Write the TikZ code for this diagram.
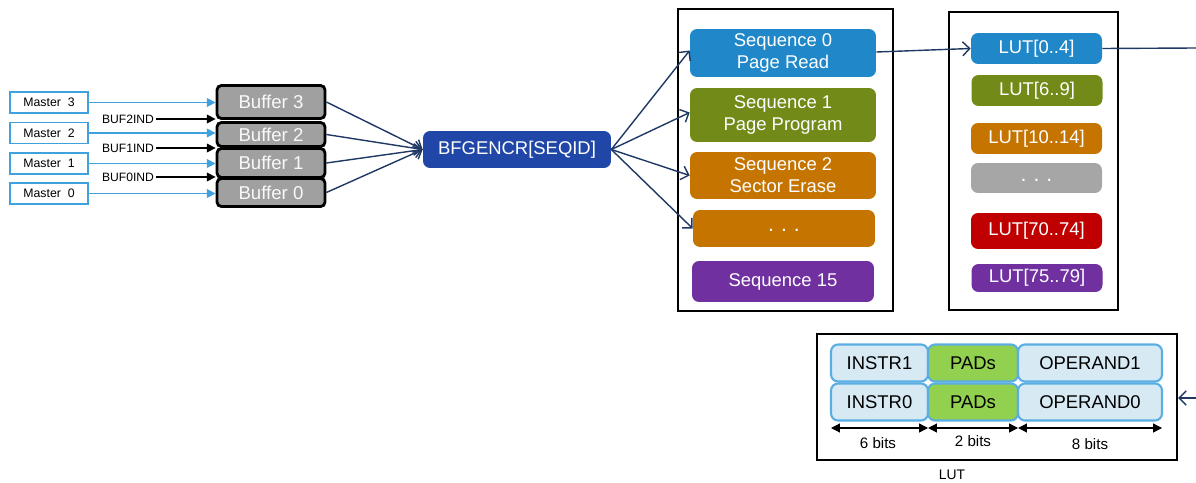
\documentclass[tikz,border=0pt]{standalone}
\usepackage{fontspec}
\setmainfont{Liberation Sans}
\usetikzlibrary{arrows.meta}
\definecolor{navy}{HTML}{1F3864}
\definecolor{mblue}{HTML}{3FA2DE}
\definecolor{bufgray}{HTML}{A0A0A0}
\definecolor{bfblue}{HTML}{2047A8}
\definecolor{sblue}{HTML}{2088C9}
\definecolor{sgreen}{HTML}{728A18}
\definecolor{sorange}{HTML}{C57400}
\definecolor{sgray}{HTML}{A6A6A6}
\definecolor{sred}{HTML}{C00000}
\definecolor{spurple}{HTML}{7030A0}
\definecolor{cellfill}{HTML}{D7EAF4}
\definecolor{celledge}{HTML}{5AAEE2}
\definecolor{padgreen}{HTML}{92D050}
\newcommand{\mydots}{\raisebox{-0.7ex}{\fontsize{12}{12}\selectfont .\,\,.\,\,.}}
\tikzset{
  master/.style={draw=mblue, line width=0.8pt, fill=white, minimum width=1.56cm, minimum height=0.42cm, inner sep=0pt, font=\fontsize{7}{8}\selectfont},
  buffer/.style={draw=black, line width=1.6pt, fill=bufgray, rounded corners=2.5pt, minimum width=2.16cm, inner sep=0pt, text=white!95!gray, font=\fontsize{10.6}{12}\selectfont},
  indlabel/.style={anchor=east, inner sep=1pt, font=\fontsize{6.9}{8}\selectfont},
  colbox/.style={rounded corners=4pt, inner sep=0pt, text=white, align=center, font=\fontsize{10.5}{12.4}\selectfont},
  frame/.style={draw=black, line width=1.6pt, inner sep=0pt},
  cell/.style={draw=celledge, line width=1.2pt, fill=cellfill, rounded corners=4pt, inner sep=0pt, minimum height=0.74cm, font=\fontsize{10.5}{12}\selectfont},
  marr/.style={mblue, line width=0.8pt, -{Triangle[length=5pt,width=5pt]}},
  barr/.style={black, line width=0.8pt, -{Triangle[length=5pt,width=5pt]}},
  narr/.style={navy, line width=0.8pt, -{Straight Barb[length=4pt,width=8pt]}},
  dimarr/.style={black, line width=0.7pt, {Triangle[length=5pt,width=5pt]}-{Triangle[length=5pt,width=5pt]}},
  small/.style={inner sep=0pt, font=\fontsize{8.6}{10}\selectfont}
}
\begin{document}
\begin{tikzpicture}[x=0.02cm,y=-0.02cm]
\useasboundingbox (0,0) rectangle (1196,483);
% masters
\node[master] (m3) at (49,102.5) {Master\ \ 3};
\node[master] (m2) at (49,133) {Master\ \ 2};
\node[master] (m1) at (49,163.5) {Master\ \ 1};
\node[master] (m0) at (49,193.5) {Master\ \ 0};
% buffers
\node[buffer, minimum height=0.66cm] (b3) at (271,102) {Buffer 3};
\node[buffer, minimum height=0.48cm] (b2) at (271,134.5) {Buffer 2};
\node[buffer, minimum height=0.58cm] (b1) at (271,163) {Buffer 1};
\node[buffer, minimum height=0.56cm] (b0) at (271,192.5) {Buffer 0};
\draw[marr] (m3.east) -- (m3.east -| b3.west);
\draw[marr] (m2.east) -- (m2.east -| b2.west);
\draw[marr] (m1.east) -- (m1.east -| b1.west);
\draw[marr] (m0.east) -- (m0.east -| b0.west);
% indicators
\node[indlabel] (i2) at (156,119) {BUF2IND};
\node[indlabel] (i1) at (156,148) {BUF1IND};
\node[indlabel] (i0) at (156,177) {BUF0IND};
\draw[barr] (i2.east) -- (i2.east -| b3.west);
\draw[barr] (i1.east) -- (i1.east -| b2.west);
\draw[barr] (i0.east) -- (i0.east -| b1.west);
% BFGENCR
\node[colbox, fill=bfblue, minimum width=3.76cm, minimum height=0.74cm] (bf) at (517,149.5) {BFGENCR[SEQID]};
\draw[narr] (b3.east) -- (bf.west);
\draw[narr] (b2.east) -- (bf.west);
\draw[narr] (b1.east) -- (bf.west);
\draw[narr] (b0.east) -- (bf.west);
% sequences
\node[frame, minimum width=4.3cm, minimum height=6.04cm] (sf) at (785.5,160) {};
\node[colbox, fill=sblue, minimum width=3.72cm, minimum height=0.96cm] (s0) at (783,53) {Sequence 0\\Page Read};
\node[colbox, fill=sgreen, minimum width=3.72cm, minimum height=1.08cm] (s1) at (783,115) {Sequence 1\\Page Program};
\node[colbox, fill=sorange, minimum width=3.72cm, minimum height=0.94cm] (s2) at (783,175.5) {Sequence 2\\Sector Erase};
\node[colbox, fill=sorange, minimum width=3.64cm, minimum height=0.74cm] (sd) at (784,228.5) {\mydots};
\node[colbox, fill=spurple, minimum width=3.64cm, minimum height=0.82cm] (s15) at (783,281.5) {Sequence 15};
\draw[narr] (bf.east) -- ([yshift=0.05cm]s0.west);
\draw[narr] (bf.east) -- ([yshift=0.05cm]s1.west);
\draw[narr] (bf.east) -- (s2.west);
\draw[narr] (bf.east) -- (sd.west);
% LUTs
\node[frame, minimum width=3.38cm, minimum height=5.96cm] (lf) at (1033.5,161) {};
\node[colbox, fill=sblue, minimum width=2.62cm, minimum height=0.62cm] (l0) at (1036.5,48.5) {LUT[0..4]};
\node[colbox, fill=sgreen, minimum width=2.62cm, minimum height=0.62cm] (l1) at (1037,90.5) {LUT[6..9]};
\node[colbox, fill=sorange, minimum width=2.62cm, minimum height=0.62cm] (l2) at (1036.5,138.5) {LUT[10..14]};
\node[colbox, fill=sgray, minimum width=2.62cm, minimum height=0.6cm] (ld) at (1036.5,178) {\mydots};
\node[colbox, fill=sred, minimum width=2.62cm, minimum height=0.72cm] (l70) at (1036.5,231) {LUT[70..74]};
\node[colbox, fill=spurple, minimum width=2.62cm, minimum height=0.56cm] (l75) at (1037,278) {LUT[75..79]};
\draw[narr] ([yshift=0.02cm]s0.east) -- (l0.west);
\coordinate (outr) at (1196,48);
\draw[navy, line width=0.8pt] (l0.east) -- (outr);
% LUT detail
\node[frame, line width=1.4pt, minimum width=7.2cm, minimum height=2.52cm] (lut) at (997,397) {};
\node[cell, minimum width=1.94cm] (in1) at (879.5,363) {INSTR1};
\node[cell, minimum width=1.8cm, fill=padgreen] (p1) at (973,363) {PADs};
\node[cell, minimum width=2.88cm] (op1) at (1090,363) {OPERAND1};
\node[cell, minimum width=1.94cm] (in0) at (879.5,402) {INSTR0};
\node[cell, minimum width=1.8cm, fill=padgreen] (p0) at (973,402) {PADs};
\node[cell, minimum width=2.88cm] (op0) at (1090,402) {OPERAND0};
\coordinate (d0) at (831,428);
\coordinate (d1) at (928,428);
\coordinate (d2) at (1018,428);
\coordinate (d3) at (1162,428);
\draw[dimarr] (d0) -- (d1);
\draw[dimarr] (d1) -- (d2);
\draw[dimarr] (d2) -- (d3);
\node[small] (t6) at (878,443) {6 bits};
\node[small] (t2) at (973,441) {2 bits};
\node[small] (t8) at (1090,444) {8 bits};
\node[inner sep=0pt, font=\fontsize{7.9}{9}\selectfont] (lutlbl) at (952,475) {LUT};
\coordinate (inr) at (1196,398);
\draw[narr] (inr) -- (lut.east |- inr);
\end{tikzpicture}
\end{document}
